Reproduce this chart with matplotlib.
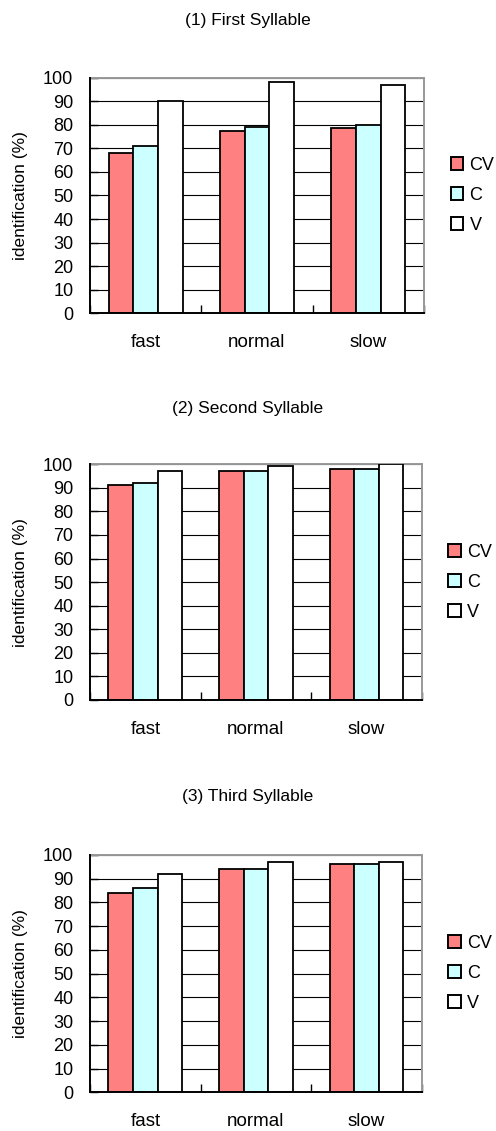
import numpy as np
import matplotlib
matplotlib.use('Agg')
import matplotlib.pyplot as plt
from matplotlib.patches import Patch

plt.rcParams['font.family'] = ['Liberation Sans', 'DejaVu Sans']

speeds = ['fast', 'normal', 'slow']
series = ['CV', 'C', 'V']
colors = ['#FF8080', '#CCFFFF', '#FFFFFF']
titles = ['(1) First Syllable', '(2) Second Syllable', '(3) Third Syllable']

# values per panel, rows = series (CV, C, V), columns = speeds
first_syllable = [[68, 77.5, 78.5],
                  [71, 79, 80],
                  [90, 98, 97]]
second_syllable = [[91, 97, 98],
                   [92, 97, 98],
                   [97, 99.3, 100]]
third_syllable = [[84, 94, 96],
                  [86, 94, 96],
                  [92, 97, 97]]
panels = [first_syllable, second_syllable, third_syllable]

# axes boxes in figure fractions [left, bottom, width, height]
boxes = [[0.1815, 0.7230, 0.673, 0.2083],
         [0.1815, 0.3811, 0.669, 0.2084],
         [0.1815, 0.0342, 0.669, 0.2100]]
title_y = [21, 408, 797]

fig = plt.figure(figsize=(4.96, 11.31), dpi=100)
x = np.arange(len(speeds))
w = 1 / 4.5

for k in range(3):
    ax = fig.add_axes(boxes[k])
    data = panels[k]
    for i in range(len(series)):
        ax.bar(x + (i - 1) * w, data[i], width=w, color=colors[i],
               edgecolor='black', linewidth=1.3, zorder=3)

    ax.set_xlim(-0.5, 2.5)
    ax.set_ylim(0, 100)
    ax.set_yticks(np.arange(0, 101, 10))
    ax.yaxis.grid(True, color='black', linewidth=0.8, zorder=0)
    ax.tick_params(axis='y', direction='in', length=6, width=1, pad=12, labelsize=13)

    # category boundaries as short inward ticks, labels at centers
    ax.set_xticks([-0.5, 0.5, 1.5, 2.5])
    ax.set_xticklabels([])
    ax.tick_params(axis='x', which='major', direction='in', length=6, width=1)
    ax.set_xticks(x, minor=True)
    ax.set_xticklabels(speeds, minor=True)
    ax.tick_params(axis='x', which='minor', length=0, pad=15, labelsize=13.5)

    for side in ['left', 'bottom']:
        ax.spines[side].set_color('black')
        ax.spines[side].set_linewidth(1.4)
        ax.spines[side].set_zorder(4)
    for side in ['top', 'right']:
        ax.spines[side].set_color('#999999')
        ax.spines[side].set_linewidth(1.4)

    ax.set_ylabel('identification (%)', fontsize=12.5, labelpad=11)

    handles = [Patch(facecolor=colors[i], edgecolor='black', linewidth=1.4, label=series[i])
               for i in range(len(series))]
    ax.legend(handles=handles, loc='center left', bbox_to_anchor=(1.08, 0.5),
              frameon=False, fontsize=13, borderpad=0, borderaxespad=0,
              handlelength=0.7, handleheight=0.7, handletextpad=0.35,
              labelspacing=0.72)

    fig.text(0.5, 1 - title_y[k] / 1131, titles[k], ha='center', va='center', fontsize=12.5)

fig.savefig('out.png', dpi=100)
